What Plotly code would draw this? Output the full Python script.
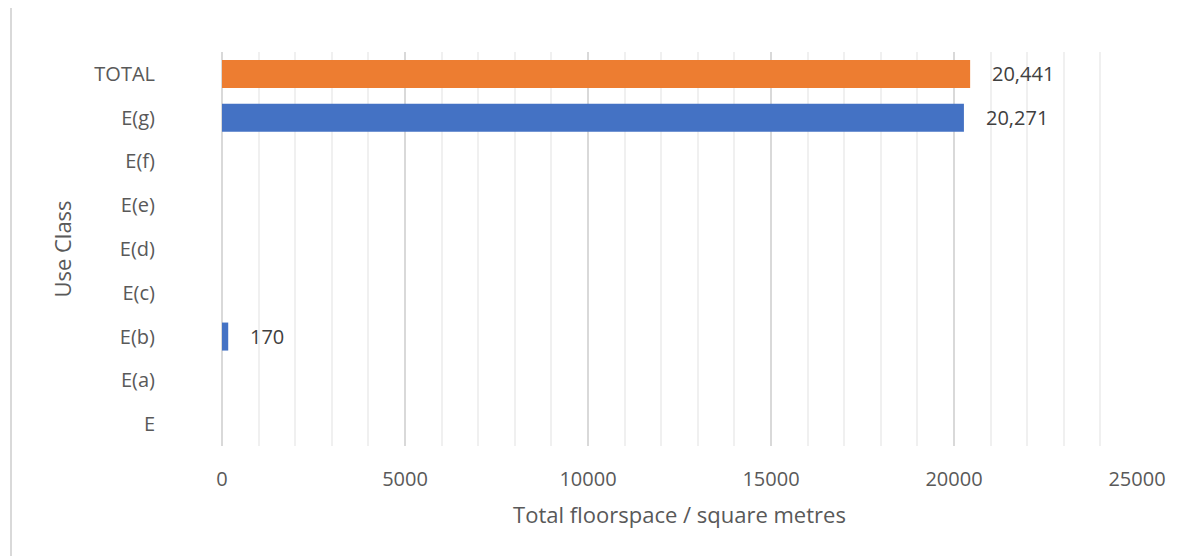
import plotly.graph_objects as go

categories = ["E", "E(a)", "E(b)", "E(c)", "E(d)", "E(e)", "E(f)", "E(g)", "TOTAL"]
values = [0, 0, 170, 0, 0, 0, 0, 20271, 20441]
bar_colors = ["#4472C4"] * 8 + ["#ED7D31"]
x_ticks = [0, 5000, 10000, 15000, 20000, 25000]

FONT = "Open Sans"

fig = go.Figure()
fig.add_trace(go.Bar(
    y=categories, x=values, orientation="h",
    marker=dict(color=bar_colors, line=dict(width=0)),
    width=0.64, hoverinfo="skip",
))

for c, v in zip(categories, values):
    if v:
        fig.add_annotation(x=v, y=c, text=f"{v:,}", showarrow=False,
                           xanchor="left", xshift=20,
                           font=dict(family=FONT, size=20, color="#404040"))

# page has an 8px body offset; compensate
W, H = 1184, 556
L, R, T, B = 214, 55, 44, 118
ph = H - T - B
pw = W - L - R
fig.add_shape(type="line", xref="paper", yref="paper",
              x0=(3 - L) / pw, x1=(3 - L) / pw,
              y0=1 + (T + 10) / ph, y1=-B / ph,
              line=dict(color="#d9d9d9", width=2))

fig.update_layout(
    width=W, height=H,
    margin=dict(l=L, r=R, t=T, b=B),
    paper_bgcolor="white", plot_bgcolor="white",
    showlegend=False,
    font=dict(family=FONT, color="#595959", size=20),
    xaxis=dict(
        range=[0, 25000], tickvals=x_ticks, ticktext=[str(t) for t in x_ticks],
        showgrid=True, gridcolor="#d9d9d9", gridwidth=1.5,
        minor=dict(dtick=1000, showgrid=True, gridcolor="#f0f0f0", gridwidth=1.5),
        zeroline=True, zerolinecolor="#d9d9d9", zerolinewidth=2,
        showline=False, ticks="", ticklabelstandoff=19,
        tickfont=dict(size=20, color="#595959"),
        title=dict(text="Total floorspace / square metres", standoff=16,
                   font=dict(size=22, color="#595959")),
    ),
    yaxis=dict(
        categoryorder="array", categoryarray=categories,
        showgrid=False, zeroline=False, showline=False, ticks="",
        ticklabelstandoff=66,
        tickfont=dict(size=20, color="#595959"),
        title=dict(text="Use Class", standoff=16,
                   font=dict(size=22, color="#595959")),
    ),
)

fig.write_html("out.html")
